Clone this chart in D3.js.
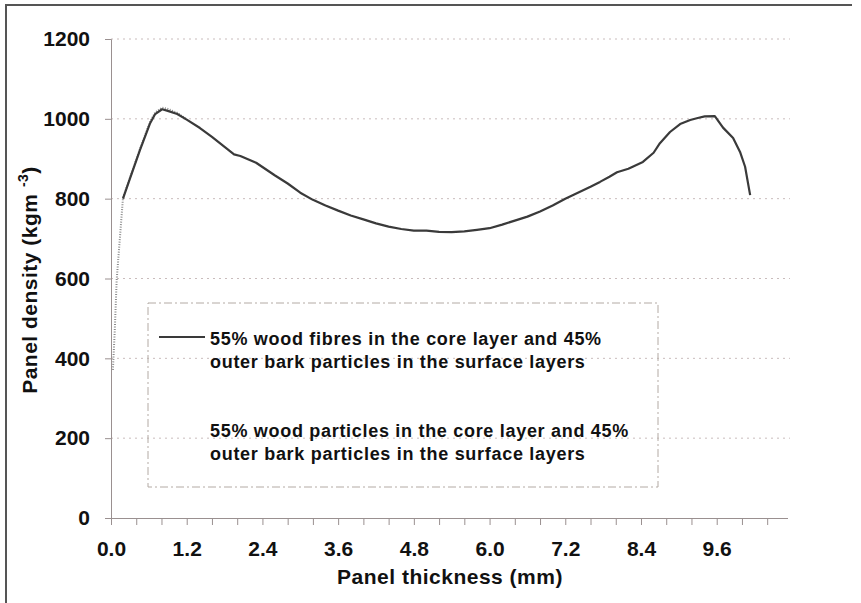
<!DOCTYPE html>
<head>
  <meta charset="utf-8">
  <title>Panel density profile</title>
  <script src="https://d3js.org/d3.v7.min.js"></script>
  <style>
    body { margin: 0; background: #fff; }
    text { font-family: "Liberation Sans", Arial, sans-serif; font-weight: bold; fill: #111; }
  </style>
</head>
<body>
<svg width="861" height="603"></svg>
<script>

// Series 1: wood fibres core (solid line)
var fibreX = [0.19, 0.3, 0.46, 0.62, 0.7, 0.81, 0.9, 1.05, 1.2, 1.41, 1.6, 1.8, 1.95, 2.05, 2.3, 2.6, 2.8, 3.0, 3.2, 3.4, 3.6, 3.8, 4.0, 4.2, 4.4, 4.6, 4.8, 5.0, 5.2, 5.4, 5.6, 5.8, 6.0, 6.2, 6.4, 6.6, 6.8, 7.0, 7.2, 7.4, 7.6, 7.75, 7.9, 8.02, 8.2, 8.43, 8.6, 8.7, 8.86, 9.02, 9.18, 9.3, 9.41, 9.57, 9.7, 9.86, 9.97, 10.05, 10.13];
var fibreY = [800, 850, 922, 989, 1012, 1024, 1020, 1012, 998, 977, 955, 930, 911, 907, 890, 858, 838, 815, 797, 783, 770, 758, 748, 738, 730, 724, 720, 720, 717, 716, 718, 722, 726, 735, 745, 755, 768, 783, 800, 815, 830, 842, 855, 866, 875, 892, 915, 939, 967, 987, 997, 1002, 1006, 1007, 978, 952, 917, 880, 809];

// Series 2: wood particles core (dotted line)
var particleX = [0.03, 0.06, 0.09, 0.13, 0.19, 0.3, 0.46, 0.62, 0.7, 0.81, 0.9, 1.05, 1.2];
var particleY = [371, 471, 596, 679, 802, 852, 925, 993, 1016, 1028, 1025, 1015, 999];

var yTicks = [0, 200, 400, 600, 800, 1000, 1200];
var xTicks = d3.range(0, 27).map(function(i) { return +(i * 0.4).toFixed(1); });
var xLabels = [0.0, 1.2, 2.4, 3.6, 4.8, 6.0, 7.2, 8.4, 9.6];

var legendLines = [
  ["55% wood fibres in the core layer and 45%", "outer bark particles in the surface layers"],
  ["55% wood particles in the core layer and 45%", "outer bark particles in the surface layers"]
];

var svg = d3.select("svg");

// outer frame (top and left edges visible)
svg.append("path")
  .attr("d", "M6,603 V5 H852")
  .attr("fill", "none")
  .attr("stroke", "#555")
  .attr("stroke-width", 2);

var x = d3.scaleLinear().domain([0, 10.73]).range([111, 788]);
var y = d3.scaleLinear().domain([0, 1200]).range([518, 39]);

// gridlines
svg.append("g").selectAll("line")
  .data(yTicks.filter(function(d) { return d > 0; }))
  .enter().append("line")
  .attr("x1", x(0)).attr("x2", 790)
  .attr("y1", function(d) { return y(d); })
  .attr("y2", function(d) { return y(d); })
  .attr("stroke", "#c9bcbc")
  .attr("stroke-width", 1)
  .attr("stroke-dasharray", "2,4");

// y axis
var yAxis = svg.append("g")
  .attr("transform", "translate(" + x(0) + ",0)")
  .call(d3.axisLeft(y).tickValues(yTicks).tickSize(6).tickPadding(15).tickFormat(d3.format("d")));

// x axis
var xAxis = svg.append("g")
  .attr("transform", "translate(0," + y(0) + ")")
  .call(d3.axisBottom(x).tickValues(xTicks).tickSize(7).tickPadding(16)
    .tickFormat(function(d) { return xLabels.indexOf(d) >= 0 ? d3.format(".1f")(d) : ""; }));

xAxis.select(".domain").attr("d", "M" + x(0) + ",0.5H788");

[xAxis, yAxis].forEach(function(a) {
  a.selectAll(".domain, line").attr("stroke", "#9a9090");
  a.selectAll("text")
    .style("font-size", "21px")
    .style("font-family", "'Liberation Sans', Arial, sans-serif")
    .style("font-weight", "bold")
    .attr("fill", "#111");
});

// legend box
svg.append("rect")
  .attr("x", 148).attr("y", 303)
  .attr("width", 510).attr("height", 184)
  .attr("fill", "none")
  .attr("stroke", "#b3aaa4")
  .attr("stroke-width", 1)
  .attr("stroke-dasharray", "8,3,2,3");

// lines
var line = d3.line()
  .x(function(d) { return x(d[0]); })
  .y(function(d) { return y(d[1]); });

svg.append("path")
  .datum(d3.zip(particleX, particleY))
  .attr("d", line)
  .attr("fill", "none")
  .attr("stroke", "#8a8a8a")
  .attr("stroke-width", 2)
  .attr("stroke-dasharray", "1,1.5");

svg.append("path")
  .datum(d3.zip(fibreX, fibreY))
  .attr("d", line)
  .attr("fill", "none")
  .attr("stroke", "#3a3a3a")
  .attr("stroke-width", 2.2)
  .attr("stroke-linejoin", "round");

// legend entries
svg.append("line")
  .attr("x1", 159).attr("x2", 205)
  .attr("y1", 337).attr("y2", 337)
  .attr("stroke", "#3a3a3a")
  .attr("stroke-width", 2);

legendLines.forEach(function(lines, i) {
  var t = svg.append("text")
    .attr("x", 210)
    .attr("y", 345 + i * 92)
    .style("font-size", "18px")
    .style("letter-spacing", "0.7px");
  lines.forEach(function(s, j) {
    t.append("tspan").attr("x", 210).attr("dy", j === 0 ? 0 : 23).text(s);
  });
});

// axis titles
svg.append("text")
  .attr("x", 450).attr("y", 584)
  .attr("text-anchor", "middle")
  .style("font-size", "21px")
  .style("letter-spacing", "0.5px")
  .text("Panel thickness (mm)");

var yt = svg.append("text")
  .attr("transform", "translate(37,280) rotate(-90)")
  .attr("text-anchor", "middle")
  .style("font-size", "21px")
  .style("letter-spacing", "0.5px");
yt.append("tspan").text("Panel density (kgm ");
yt.append("tspan").attr("dy", -9).style("font-size", "14px").text("-3");
yt.append("tspan").attr("dy", 9).text(")");

</script>
</body>
</html>
